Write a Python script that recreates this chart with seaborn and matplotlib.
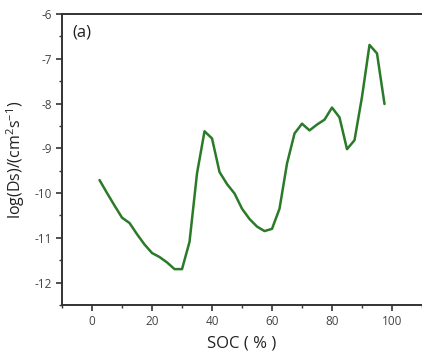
import matplotlib
matplotlib.use("Agg")
import matplotlib.pyplot as plt
import seaborn as sns
import pandas as pd
from matplotlib.ticker import MultipleLocator

soc = [2.5, 5, 7.5, 10, 12.5, 15, 17.5, 20, 22.5, 25, 27.5, 30, 32.5, 35, 37.5,
       40, 42.5, 45, 47.5, 50, 52.5, 55, 57.5, 60, 62.5, 65, 67.5, 70, 72.5, 75,
       77.5, 80, 82.5, 85, 87.5, 90, 92.5, 95, 97.5]
log_ds = [-9.71, -10.00, -10.28, -10.55, -10.67, -10.92, -11.15, -11.34, -11.43,
          -11.55, -11.70, -11.70, -11.09, -9.56, -8.62, -8.78, -9.53, -9.80,
          -10.01, -10.35, -10.58, -10.75, -10.85, -10.80, -10.35, -9.34, -8.67,
          -8.45, -8.60, -8.47, -8.36, -8.09, -8.31, -9.02, -8.82, -7.85, -6.69,
          -6.88, -8.01]

df = pd.DataFrame({"SOC": soc, "logDs": log_ds})

sns.set_style("ticks")
plt.rcParams['font.family'] = ['Open Sans', 'DejaVu Sans']
plt.rcParams['axes.unicode_minus'] = False
plt.rcParams['mathtext.fontset'] = 'custom'
plt.rcParams['mathtext.rm'] = 'Open Sans'

fig = plt.figure(figsize=(4.22, 3.6), dpi=100)
ax = fig.add_axes([0.147, 0.153, 0.853, 0.808])

sns.lineplot(data=df, x="SOC", y="logDs", ax=ax, color="#2a7a2a", linewidth=1.8)

ax.set_xlim(-10, 110)
ax.set_ylim(-12.5, -6)
ax.xaxis.set_major_locator(MultipleLocator(20))
ax.xaxis.set_minor_locator(MultipleLocator(10))
ax.yaxis.set_major_locator(MultipleLocator(1))
ax.yaxis.set_minor_locator(MultipleLocator(0.5))

for side in ["left", "bottom", "top"]:
    ax.spines[side].set_color("#333333")
    ax.spines[side].set_linewidth(1.4)
ax.spines["right"].set_visible(False)

ax.tick_params(axis="both", which="major", direction="out", length=4, width=1.2,
               color="#333333", labelsize=8.5, labelcolor="#444444")
ax.tick_params(axis="both", which="minor", direction="out", length=2.5, width=1.0,
               color="#333333")

ax.set_xlabel("SOC ( % )", fontsize=12, color="#222222", labelpad=5)
ax.set_ylabel(r"log(Ds)/(cm$^{\mathrm{2}}$s$^{\mathrm{-1}}$)", fontsize=11.5,
              color="#222222", labelpad=5)

ax.text(0.028, 0.935, "(a)", transform=ax.transAxes, fontsize=12,
        color="#222222", va="center", ha="left")

fig.savefig("out.png", dpi=100)
